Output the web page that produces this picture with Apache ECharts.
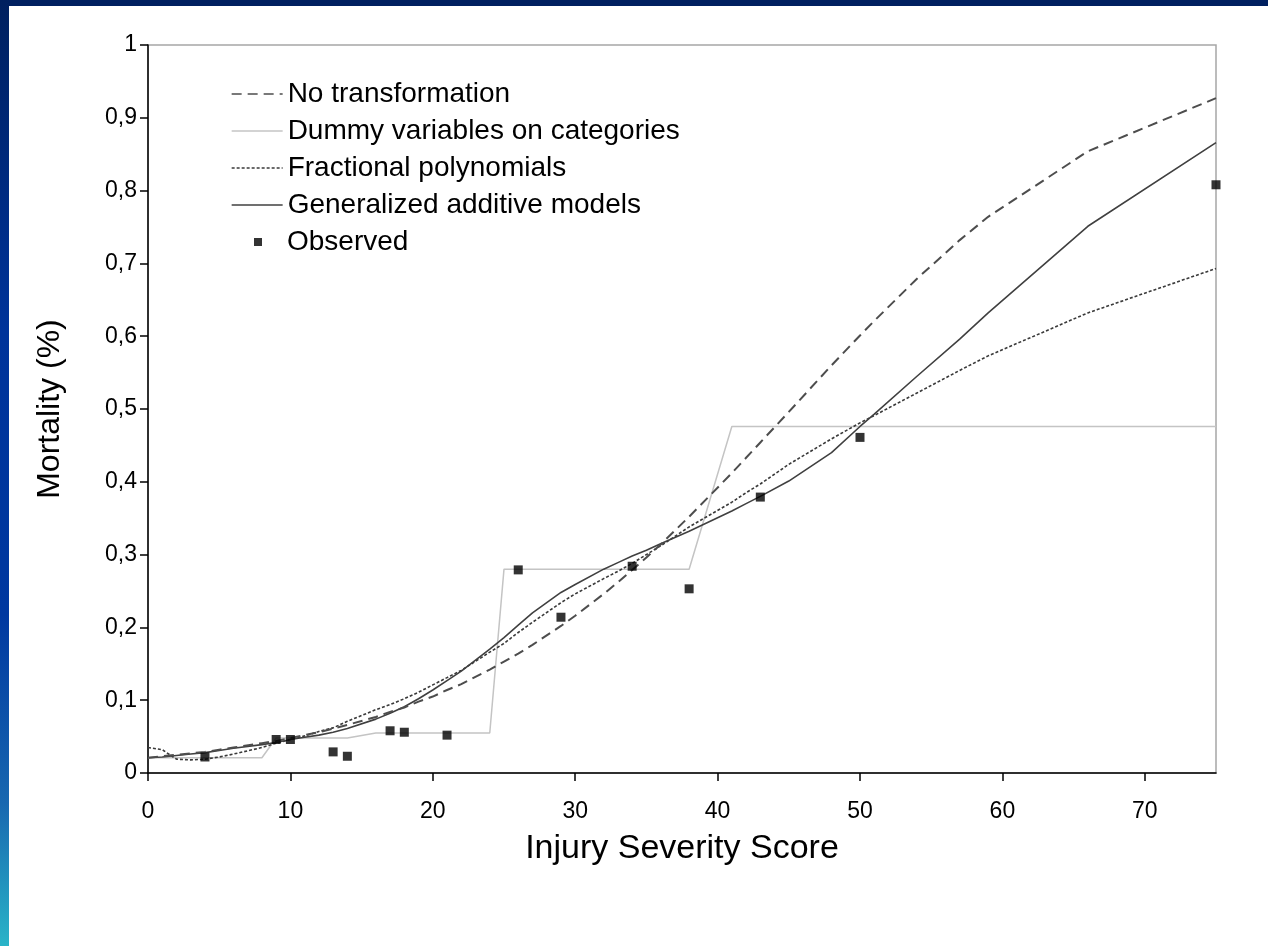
<!DOCTYPE html>
<html>
<head>
<meta charset="utf-8">
<script src="https://cdn.jsdelivr.net/npm/echarts@6/dist/echarts.min.js"></script>
<style>
  html, body { margin: 0; padding: 0; background: #ffffff; }
  #chart { width: 1268px; height: 946px; }
</style>
</head>
<body>
<div id="chart"></div>
<script>
// Injury Severity Score values at which the model curves are evaluated
const issGrid = [0, 1, 2, 3, 4, 5, 6, 8, 9, 10, 11, 12, 13, 14, 16, 17, 18, 19, 20, 21, 22, 24, 25, 26, 27, 29, 30, 32, 33, 34, 35, 36, 38, 41, 42, 43, 45, 48, 50, 51, 54, 57, 59, 66, 75];

// Predicted mortality, logistic model with ISS untransformed
const noTransformation = [0.021, 0.023, 0.025, 0.027, 0.029, 0.032, 0.035, 0.041, 0.044, 0.048, 0.052, 0.056, 0.061, 0.066, 0.077, 0.084, 0.090, 0.098, 0.105, 0.114, 0.122, 0.142, 0.153, 0.164, 0.176, 0.202, 0.216, 0.246, 0.262, 0.279, 0.296, 0.314, 0.352, 0.412, 0.433, 0.454, 0.496, 0.560, 0.601, 0.621, 0.679, 0.732, 0.764, 0.854, 0.927];

// Predicted mortality, fractional polynomials
const fractionalPolynomials = [0.035, 0.032, 0.019, 0.018, 0.019, 0.022, 0.026, 0.035, 0.041, 0.046, 0.051, 0.057, 0.062, 0.071, 0.087, 0.094, 0.102, 0.111, 0.121, 0.131, 0.141, 0.166, 0.178, 0.193, 0.207, 0.234, 0.246, 0.267, 0.277, 0.288, 0.300, 0.312, 0.338, 0.372, 0.385, 0.397, 0.424, 0.459, 0.481, 0.491, 0.522, 0.553, 0.573, 0.632, 0.693];

// Predicted mortality, generalized additive model
const generalizedAdditive = [0.021, 0.022, 0.024, 0.026, 0.028, 0.031, 0.034, 0.039, 0.042, 0.046, 0.049, 0.052, 0.056, 0.061, 0.074, 0.082, 0.091, 0.102, 0.114, 0.127, 0.140, 0.170, 0.186, 0.203, 0.220, 0.248, 0.259, 0.280, 0.289, 0.298, 0.306, 0.315, 0.332, 0.360, 0.370, 0.380, 0.401, 0.440, 0.476, 0.493, 0.545, 0.596, 0.632, 0.751, 0.866];

// Dummy variables on ISS categories: step function
const dummyIss = [0, 8, 9, 14, 16, 24, 25, 38, 41, 75];
const dummyMortality = [0.021, 0.021, 0.048, 0.048, 0.055, 0.055, 0.280, 0.280, 0.476, 0.476];

// Observed mortality
const observedIss = [4, 9, 10, 13, 14, 17, 18, 21, 26, 29, 34, 38, 43, 50, 75];
const observedMortality = [0.022, 0.046, 0.046, 0.029, 0.023, 0.058, 0.056, 0.052, 0.279, 0.214, 0.284, 0.253, 0.379, 0.461, 0.808];

// Axis ticks
const xTickValues = [0, 10, 20, 30, 40, 50, 60, 70];
const yTickValues = [0, 0.1, 0.2, 0.3, 0.4, 0.5, 0.6, 0.7, 0.8, 0.9, 1];
const yTickLabels = ['0', '0,1', '0,2', '0,3', '0,4', '0,5', '0,6', '0,7', '0,8', '0,9', '1'];

const seriesNames = ['No transformation', 'Dummy variables on categories', 'Fractional polynomials', 'Generalized additive models', 'Observed'];

const zip = (xs, ys) => xs.map((x, i) => [x, ys[i]]);
const FONT = '"Liberation Sans", Arial, sans-serif';

const chart = echarts.init(document.getElementById('chart'), null, { renderer: 'canvas' });

const lineBase = {
  type: 'line',
  symbol: 'none',
  smooth: false,
  silent: true,
  animation: false
};

chart.setOption({
  backgroundColor: '#ffffff',
  animation: false,
  textStyle: { fontFamily: FONT, color: '#000' },
  graphic: [
    {
      type: 'rect', left: 0, top: 0, z: 100,
      shape: { x: 0, y: 0, width: 1268, height: 6 },
      style: { fill: '#002060' }
    },
    {
      type: 'rect', left: 0, top: 0, z: 101,
      shape: { x: 0, y: 0, width: 9, height: 946 },
      style: {
        fill: new echarts.graphic.LinearGradient(0, 0, 0, 1, [
          { offset: 0, color: '#00205f' },
          { offset: 0.35, color: '#00339a' },
          { offset: 0.65, color: '#0038a0' },
          { offset: 0.85, color: '#1868b0' },
          { offset: 1, color: '#2ab4c8' }
        ])
      }
    }
  ],
  grid: {
    left: 148, right: 52, top: 45, bottom: 173,
    show: true,
    borderColor: '#a6a6a6',
    borderWidth: 1.5,
    backgroundColor: 'transparent'
  },
  legend: [
    {
      data: seriesNames.slice(0, 4),
      orient: 'vertical',
      left: 226, top: 75,
      itemWidth: 51, itemHeight: 14,
      itemGap: 9,
      selectedMode: false,
      itemStyle: { opacity: 0 },
      lineStyle: { width: 1.3 },
      textStyle: { fontSize: 28, color: '#000', fontFamily: FONT }
    },
    {
      data: [seriesNames[4]],
      orient: 'vertical',
      left: 249, top: 223,
      itemWidth: 8, itemHeight: 8,
      selectedMode: false,
      textStyle: { fontSize: 28, color: '#000', fontFamily: FONT, padding: [0, 0, 0, 20] }
    }
  ],
  xAxis: {
    type: 'value',
    min: 0, max: 75, interval: 10,
    name: 'Injury Severity Score',
    nameLocation: 'middle',
    nameGap: 59,
    nameTextStyle: { fontSize: 34, color: '#000', fontFamily: FONT },
    axisLine: { show: true, onZero: false, lineStyle: { color: '#000', width: 1.5 } },
    axisTick: { show: true, length: 8, customValues: xTickValues, lineStyle: { color: '#000', width: 1.5 } },
    axisLabel: { customValues: xTickValues, margin: 27, fontSize: 23, color: '#000', fontFamily: FONT },
    splitLine: { show: false }
  },
  yAxis: {
    type: 'value',
    min: 0, max: 1, interval: 0.1,
    name: 'Mortality (%)',
    nameLocation: 'middle',
    nameGap: 82,
    nameTextStyle: { fontSize: 32, color: '#000', fontFamily: FONT },
    axisLine: { show: true, onZero: false, lineStyle: { color: '#000', width: 1.5 } },
    axisTick: { show: true, length: 8, customValues: yTickValues, lineStyle: { color: '#000', width: 1.5 } },
    axisLabel: {
      customValues: yTickValues,
      margin: 11, fontSize: 23, color: '#000', fontFamily: FONT,
      formatter: (v) => {
        const i = yTickValues.findIndex((t) => Math.abs(t - v) < 1e-9);
        return i >= 0 ? yTickLabels[i] : '';
      }
    },
    splitLine: { show: false }
  },
  series: [
    Object.assign({}, lineBase, {
      name: seriesNames[0],
      data: zip(issGrid, noTransformation),
      z: 4,
      lineStyle: { color: '#4d4d4d', width: 2, type: [10, 6] },
      itemStyle: { color: '#4d4d4d' }
    }),
    Object.assign({}, lineBase, {
      name: seriesNames[1],
      data: zip(dummyIss, dummyMortality),
      z: 2,
      lineStyle: { color: '#c4c4c4', width: 1.5, type: 'solid' },
      itemStyle: { color: '#c4c4c4' }
    }),
    Object.assign({}, lineBase, {
      name: seriesNames[2],
      data: zip(issGrid, fractionalPolynomials),
      z: 3,
      lineStyle: { color: '#3a3a3a', width: 1.6, type: [3, 2] },
      itemStyle: { color: '#3a3a3a' }
    }),
    Object.assign({}, lineBase, {
      name: seriesNames[3],
      data: zip(issGrid, generalizedAdditive),
      z: 3,
      lineStyle: { color: '#404040', width: 1.6, type: 'solid' },
      itemStyle: { color: '#404040' }
    }),
    {
      type: 'scatter',
      name: seriesNames[4],
      data: zip(observedIss, observedMortality),
      symbol: 'rect',
      symbolSize: 9,
      z: 6,
      silent: true,
      animation: false,
      itemStyle: { color: '#000000' }
    }
  ]
});
</script>
</body>
</html>
